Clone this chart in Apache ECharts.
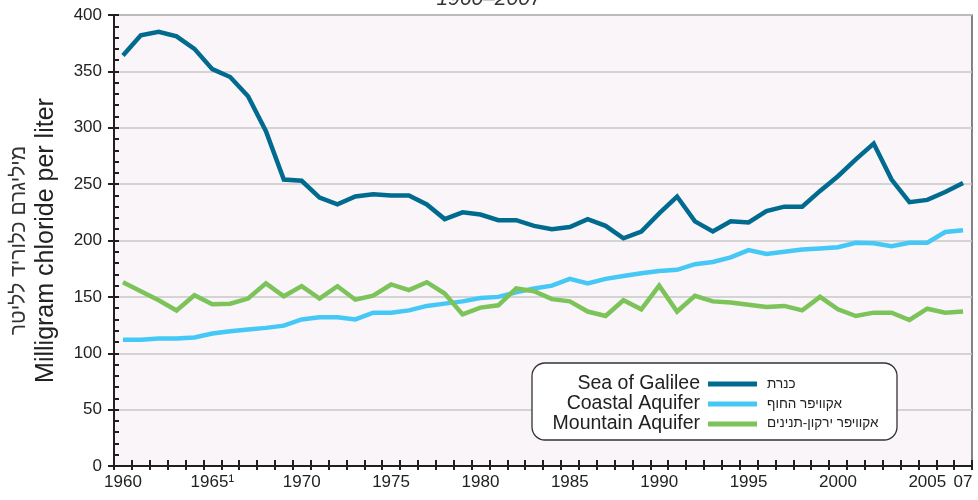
<!DOCTYPE html>
<html><head><meta charset="utf-8">
<script src="https://cdn.jsdelivr.net/npm/echarts@6/dist/echarts.min.js"></script>
<style>html,body{margin:0;padding:0;background:#fff}#c{width:978px;height:500px}</style>
</head><body><div id="c"></div>
<script>
// ---- data ----
const years = ['1960','1961','1962','1963','1964','1965','1966','1967','1968','1969',
  '1970','1971','1972','1973','1974','1975','1976','1977','1978','1979',
  '1980','1981','1982','1983','1984','1985','1986','1987','1988','1989',
  '1990','1991','1992','1993','1994','1995','1996','1997','1998','1999',
  '2000','2001','2002','2003','2004','2005','2006','2007'];
const xLabelYears = ['1960','1965','1970','1975','1980','1985','1990','1995','2000','2005','2007'];
const xLabelTexts = ['1960','1965¹','1970','1975','1980','1985','1990','1995','2000','2005','07'];
const seriesNamesEn = ['Sea of Galilee','Coastal Aquifer','Mountain Aquifer'];
const seriesNamesHe = ['כנרת','אקוויפר החוף','אקוויפר ירקון-תנינים'];
const seaOfGalilee = [364,382,385,381,370,352,345,328,297,254,253,238,232,239,241,240,240,232,219,225,
  223,218,218,213,210,212,219,213,202,208,224,239,217,208,217,216,226,230,230,244,
  257,272,286,254,234,236,243,251];
const coastalAquifer = [112,112,113,113,114,117.5,119.5,121,122.5,124.5,130,132,132,130,136,136,138,142,144,146,
  149,150,154,157.5,160,166,162,166,168.5,171,173,174,179,181,185,191.5,188,190,192,193,
  194,198,197.5,195,198,198,207.5,209];
const mountainAquifer = [163,155,147,138,151.5,143.5,144,148.5,162,150.5,159.5,148.5,159.5,147.5,151,161,156,163,153,134.5,
  140.5,142.5,157.5,155,148,146,137,133,147,139,160,137,151,146,145,143,141,142,138,150,
  139,133,136,136,129.5,139.5,136,137];
const yMin = 0, yMax = 400, yStep = 50;
const colors = ['#006b8f','#45c8f5','#7cc35a'];
const yNameHe = 'מיליגרם כלוריד לליטר';
const yNameEn = 'Milligram chloride per liter';
const titleText = '1960–2007';

// ---- chart ----
const chart = echarts.init(document.getElementById('c'), null, {renderer:'canvas'});
const font = 'Liberation Sans, Arial, sans-serif';
const axisCol = '#231f20';
const labelMap = {};
xLabelYears.forEach((y,i)=>{ labelMap[y] = xLabelTexts[i]; });
const dataSets = [seaOfGalilee, coastalAquifer, mountainAquifer];

const rowY = [384, 404, 423.5];

const option = {
  animation:false,
  title:{text:titleText, left:'center', top:-11, padding:0,
    textStyle:{fontStyle:'italic', fontWeight:'normal', fontSize:21, color:'#333', fontFamily:font}},
  grid:{left:114, right:6, top:15, bottom:34, show:true, backgroundColor:'#f9f5f9', borderColor:'#333', borderWidth:1.2},
  xAxis:[
    {type:'category', data:years, boundaryGap:true,
      axisLine:{show:true, lineStyle:{color:axisCol, width:2}},
      axisTick:{show:true, inside:true, length:6, interval:0, lineStyle:{color:axisCol, width:2}},
      axisLabel:{show:false}, splitLine:{show:false}},
    {type:'category', data:years, boundaryGap:true, position:'bottom',
      axisLine:{show:true, lineStyle:{color:axisCol, width:2}},
      axisTick:{show:true, inside:false, length:4, interval:0, lineStyle:{color:axisCol, width:2}},
      axisLabel:{show:true, interval:(i,v)=>labelMap[v]!==undefined, formatter:v=>labelMap[v]||'',
        fontFamily:font, fontSize:17, color:'#222', margin:8},
      splitLine:{show:false}}
  ],
  yAxis:[
    {type:'value', min:yMin, max:yMax, interval:yStep,
      axisLine:{show:true, lineStyle:{color:axisCol, width:2}},
      axisTick:{show:true, inside:true, length:5, lineStyle:{color:axisCol, width:2}},
      minorTick:{show:true, splitNumber:5, length:5, lineStyle:{color:axisCol, width:2}},
      splitLine:{show:true, lineStyle:{color:'#c8c8c8', width:1.5}},
      axisLabel:{fontSize:17, color:'#222', margin:12, fontFamily:font},
      name:'{h|'+yNameHe+'}\n{e|'+yNameEn+'}', nameLocation:'middle', nameRotate:90, nameGap:54,
      nameTextStyle:{rich:{
        h:{fontSize:21, fontFamily:font, color:'#333', lineHeight:26},
        e:{fontSize:25, fontFamily:font, color:'#222', lineHeight:28}
      }}},
    {type:'value', min:yMin, max:yMax, interval:yStep, position:'left',
      axisLine:{show:true, lineStyle:{color:axisCol, width:2}},
      axisTick:{show:true, inside:false, length:6, lineStyle:{color:axisCol, width:2}},
      axisLabel:{show:false}, splitLine:{show:false}}
  ],
  legend:{orient:'vertical', align:'right', right:221, top:374, padding:0, itemGap:0,
    itemWidth:49, itemHeight:5, icon:'rect', selectedMode:false, data:seriesNamesEn,
    textStyle:{fontSize:19.5, color:'#222', lineHeight:19.5, fontFamily:font, padding:[0,3,0,0]}},
  graphic:[
    {type:'rect', z:3, shape:{x:532, y:363, width:365, height:77, r:13},
      style:{fill:'#ffffff', stroke:'#333', lineWidth:1.3}},
  ].concat(seriesNamesHe.map((t,i)=>({type:'text', z:5, x:767, y:rowY[i],
      style:{text:t, fontSize:13.5, fontFamily:font, fill:'#222', textAlign:'left', textVerticalAlign:'middle'}}))),
  series: seriesNamesEn.map((n,i)=>({
    name:n, type:'line', xAxisIndex:0, yAxisIndex:0, data:dataSets[i], symbol:'none',
    color:colors[i], lineStyle:{color:colors[i], width:4.5, join:'miter', cap:'butt'}, z:2+i
  }))
};
chart.setOption(option);
</script></body></html>
